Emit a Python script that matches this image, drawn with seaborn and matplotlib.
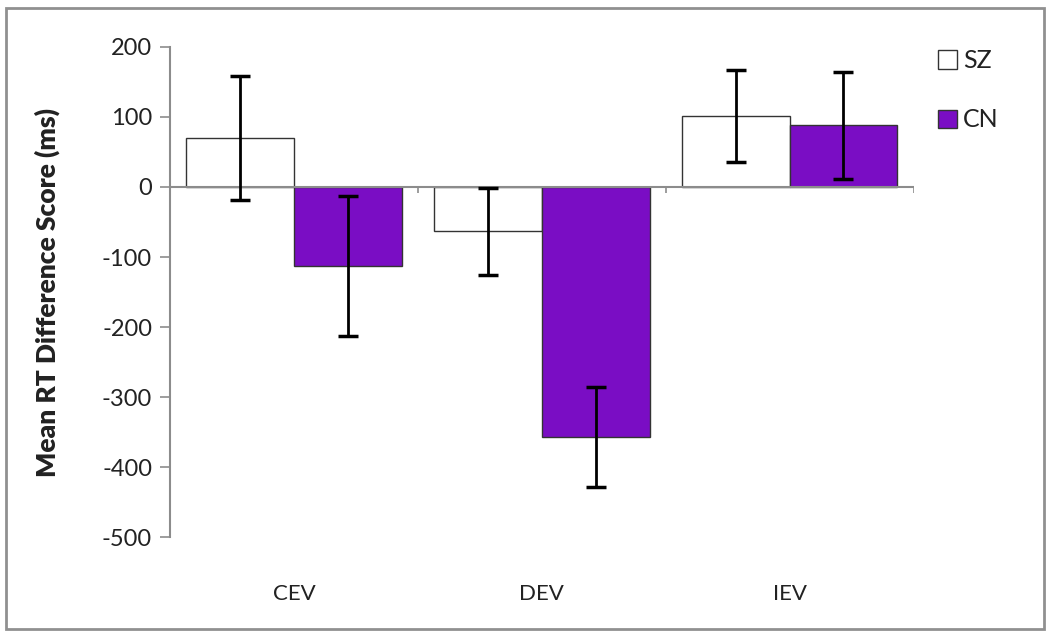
import pandas as pd
import matplotlib
matplotlib.use('Agg')
import matplotlib.pyplot as plt
from matplotlib.patches import Rectangle
import seaborn as sns

# values
conditions = ['CEV', 'DEV', 'IEV']
groups = ['SZ', 'CN']
sz_mean = [70, -63, 101]
cn_mean = [-113, -357, 88]
sz_err = [88, 62, 66]
cn_err = [100, 71, 76]

purple = '#7A0DC4'
axis_gray = '#8C8C8C'

df = pd.DataFrame({
    'Condition': conditions * 2,
    'Group': ['SZ'] * 3 + ['CN'] * 3,
    'Score': sz_mean + cn_mean,
    'Err': sz_err + cn_err,
})

sns.set_style('white')
plt.rcParams['font.family'] = ['Lato', 'DejaVu Sans']
plt.rcParams['axes.unicode_minus'] = False

fig = plt.figure(figsize=(10.5, 6.35), dpi=100)
ax = fig.add_axes([0.162, 0.1543, 0.708, 0.7717])

sns.barplot(data=df, x='Condition', y='Score', hue='Group',
            order=conditions, hue_order=groups,
            palette={'SZ': 'white', 'CN': purple}, saturation=1,
            width=0.87, errorbar=None, edgecolor='#333333', linewidth=1,
            legend=False, ax=ax)

# error bars on top of each bar, using the bar centres seaborn drew
for cont, g in zip(ax.containers, groups):
    sub = df[df['Group'] == g].set_index('Condition').loc[conditions]
    xs = [p.get_x() + p.get_width() / 2 for p in cont.patches]
    ax.errorbar(xs, sub['Score'], yerr=sub['Err'], fmt='none',
                ecolor='black', elinewidth=2, capsize=7, capthick=2.5, zorder=5)

ax.set_ylim(-500, 200)
ax.set_xlim(-0.5, 2.5)
ax.set_yticks(range(-500, 201, 100))
ax.axhline(0, color=axis_gray, lw=1.5, zorder=1)
ax.vlines([0.5, 1.5, 2.5], -9, 0, color=axis_gray, lw=1.2)

for s in ['top', 'right', 'bottom']:
    ax.spines[s].set_visible(False)
ax.spines['left'].set_color(axis_gray)
ax.spines['left'].set_linewidth(1.5)
ax.tick_params(axis='y', length=7, width=1.2, color=axis_gray, left=True,
               labelsize=17, labelcolor='#222222', pad=6)
ax.tick_params(axis='x', length=0, labelsize=16, labelcolor='#222222', pad=34)

ax.set_xlabel('')
ax.set_ylabel('Mean RT Difference Score (ms)', fontsize=19, fontweight='heavy',
              color='#222222', labelpad=30)

leg = fig.legend(ax.containers[0].patches[:1] + ax.containers[1].patches[:1], groups,
                 loc='upper left', bbox_to_anchor=(0.872, 0.958), frameon=False,
                 fontsize=18, handlelength=0.75, handleheight=0.75,
                 handletextpad=0.25, labelspacing=1.45)
for t in leg.get_texts():
    t.set_color('#222222')

fig.patches.append(Rectangle((0.006, 0.01), 0.988, 0.977, transform=fig.transFigure,
                             fill=False, edgecolor='#909090', lw=2))

fig.savefig('out.png', dpi=100)
